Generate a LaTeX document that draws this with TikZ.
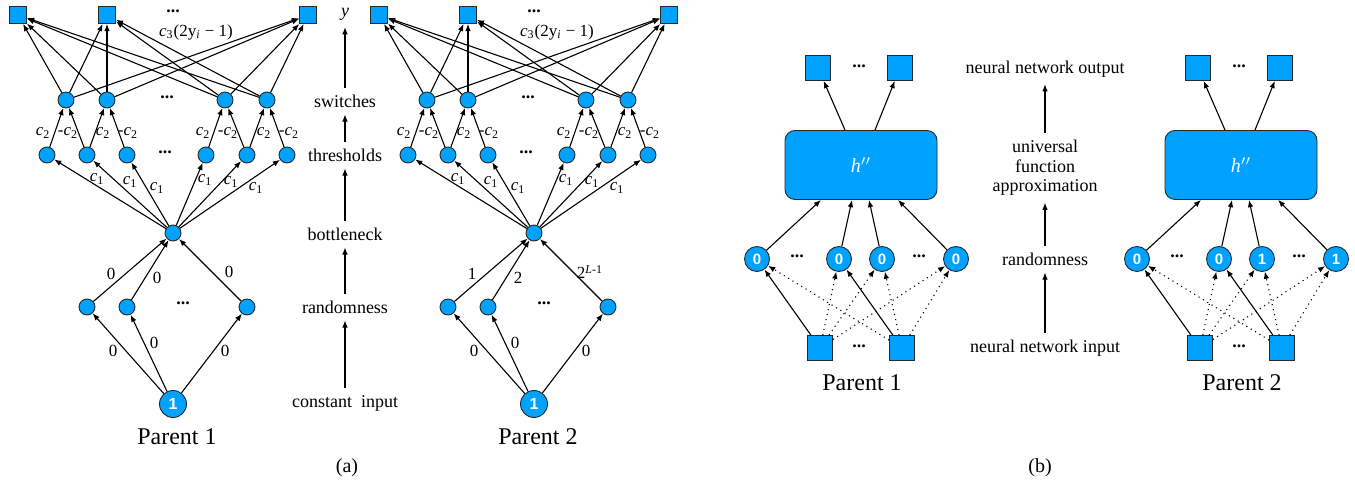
\documentclass[tikz,border=0pt]{standalone}
\usepackage{fontspec}
\setmainfont{Liberation Serif}
\newfontfamily\lsans{Liberation Sans}
\usetikzlibrary{arrows.meta,calc}
\definecolor{nnblue}{RGB}{0,162,255}
\definecolor{nnedge}{RGB}{40,40,40}
\begin{document}
\begin{tikzpicture}[x=0.5pt,y=-0.5pt,
  every node/.style={font=\fontsize{9}{10}\selectfont},
  arr/.style={-{Latex[length=3.6pt,width=2.8pt]},line width=0.55pt},
  dotarr/.style={arr,dotted},
  sn/.style={circle,fill=nnblue,draw=nnedge,line width=0.45pt,minimum size=8pt,inner sep=0pt},
  sq/.style={rectangle,fill=nnblue,draw=nnedge,line width=0.45pt,minimum size=8.5pt,inner sep=0pt},
  inp/.style={circle,fill=nnblue,draw=nnedge,line width=0.45pt,minimum size=13.5pt,inner sep=0pt,text=white,font=\lsans\bfseries\fontsize{8}{8}\selectfont},
  bn/.style={circle,fill=nnblue,draw=nnedge,line width=0.45pt,minimum size=12.5pt,inner sep=0pt,text=white,font=\lsans\bfseries\fontsize{7.5}{8}\selectfont},
  bsq/.style={rectangle,fill=nnblue,draw=nnedge,line width=0.45pt,minimum size=12.5pt,inner sep=0pt},
  hbox/.style={rectangle,rounded corners=5pt,fill=nnblue,draw=nnedge,line width=0.45pt,minimum width=76pt,minimum height=34.5pt,text=white,font=\fontsize{10}{10}\selectfont},
  elab/.style={font=\fontsize{8.5}{9}\selectfont,inner sep=1pt},
  plab/.style={font=\fontsize{12}{13}\selectfont},
  dots/.style={font=\fontsize{9}{10}\selectfont\bfseries},
]
\useasboundingbox (0,0) rectangle (1355,491);

% ---------------- panel (a) ----------------
\foreach \s/\p/\la/\lb/\lc in {0/1/0/0/0, 361/2/1/2/{2\textsuperscript{\textit{L}-1}}}{
\begin{scope}[shift={(\s,0)}]
  \node[sq] (o1\p) at (18,15) {};
  \node[sq] (o2\p) at (107,15) {};
  \node[sq] (o3\p) at (308,15) {};
  \node[dots] (od\p) at (173,11) {...};
  \node[elab] (cc\p) at (196,32) {\textit{c}\textsubscript{3}(2y\textsubscript{\textit{i}} − 1)};
  \foreach \i/\x in {1/66,2/107,3/225,4/267} \node[sn] (s\i\p) at (\x,100) {};
  \node[dots] (sd\p) at (167,97) {...};
  \foreach \i/\x in {1/47,2/87,3/127,4/206,5/247,6/287} \node[sn] (t\i\p) at (\x,155) {};
  \node[dots] (td\p) at (165,152) {...};
  \node[sn] (b\p) at (173,233) {};
  \foreach \i/\x in {1/87,2/127,3/247} \node[sn] (r\i\p) at (\x,307) {};
  \node[dots] (rd\p) at (183,303) {...};
  \node[inp] (in\p) at (173,404) {1};
  \node[plab] (pl\p) at (177,437) {Parent \p};
  % edges
  \foreach \i in {1,2,3,4} \foreach \j in {1,2,3} \draw[arr] (s\i\p) -- (o\j\p);
  \foreach \t/\w in {1/1,2/1,2/2,3/2,4/3,5/3,5/4,6/4} \draw[arr] (t\t\p) -- (s\w\p);
  \foreach \t in {1,...,6} \draw[arr] (b\p) -- (t\t\p);
  \foreach \r in {1,2,3} \draw[arr] (r\r\p) -- (b\p);
  \foreach \r in {1,2,3} \draw[arr] (in\p) -- (r\r\p);
  % labels
  \foreach \n/\x/\m in {a/43/,b/68/-,c/103/,d/128/-,e/203/,f/228/-,g/264/,h/289/-}
    \node[elab] (ct\n\p) at (\x,133) {\m\textit{c}\textsubscript{2}};
  \foreach \n/\x/\y in {a/97/179,b/130/182,c/157/188,d/205/180,e/231/182,f/256/188}
    \node[elab] (co\n\p) at (\x,\y) {\textit{c}\textsubscript{1}};
  \node[elab] (wa\p) at (111,274) {\la};
  \node[elab] (wb\p) at (157,278) {\lb};
  \node[elab] (wc\p) at (229,272) {\lc};
  \node[elab] (za\p) at (113,351) {0};
  \node[elab] (zb\p) at (154,343) {0};
  \node[elab] (zc\p) at (225,351) {0};
\end{scope}
}

% middle labels (a)
\node (ly) at (345,14) {\textit{y}};
\node (lsw) at (345,101) {switches};
\node (lth) at (345,155) {thresholds};
\node (lbn) at (345,234) {bottleneck};
\node (lrn) at (345,307) {randomness};
\node (lci) at (345,403) {constant~ input};
\draw[arr] (lsw.north) -- (ly.south);
\draw[arr] (lth.north) -- (lsw.south);
\draw[arr] (lbn.north) -- (lth.south);
\draw[arr] (lrn.north) -- (lbn.south);
\draw[arr] (lci.north) -- (lrn.south);

% ---------------- panel (b) ----------------
\foreach \s/\p/\na/\nb/\nc/\nd in {0/1/0/0/0/0, 380/2/0/0/1/1}{
\begin{scope}[shift={(\s,0)}]
  \node[bsq] (bo1\p) at (818,68) {};
  \node[bsq] (bo2\p) at (900,68) {};
  \node[dots] (bod\p) at (859,66) {...};
  \node[hbox] (h\p) at (861,165) {\textit{h}$''$};
  \node[bn] (bn1\p) at (757,259) {\na};
  \node[bn] (bn2\p) at (839,259) {\nb};
  \node[bn] (bn3\p) at (882,259) {\nc};
  \node[bn] (bn4\p) at (956,259) {\nd};
  \node[dots] (bd1\p) at (797,256) {...};
  \node[dots] (bd2\p) at (919,256) {...};
  \node[bsq] (bi1\p) at (820,348) {};
  \node[bsq] (bi2\p) at (902,348) {};
  \node[dots] (bid\p) at (859,346) {...};
  \node[plab] (bpl\p) at (862,383) {Parent \p};
  \draw[arr] ($(h\p.north)+(-16,0)$) -- (bo1\p);
  \draw[arr] ($(h\p.north)+(14,0)$) -- (bo2\p);
  \draw[arr] (bn1\p) -- ($(h\p.south)+(-40,0)$);
  \draw[arr] (bn2\p) -- ($(h\p.south)+(-9,0)$);
  \draw[arr] (bn3\p) -- ($(h\p.south)+(8,0)$);
  \draw[arr] (bn4\p) -- ($(h\p.south)+(37,0)$);
  \draw[arr] (bi1\p) -- (bn1\p);
  \draw[arr] (bi2\p) -- (bn2\p);
  \foreach \k in {2,3,4} \draw[dotarr] (bi1\p) -- (bn\k\p);
  \foreach \k in {1,3,4} \draw[dotarr] (bi2\p) -- (bn\k\p);
\end{scope}
}

% middle labels (b)
\node (bno) at (1045,69) {neural network output};
\node[align=center,font=\fontsize{9}{9.75}\selectfont] (buf) at (1045,168) {universal\\function\\approximation};
\node (brn) at (1045,259) {randomness};
\node (bni) at (1045,348) {neural network input};
\draw[arr] (bni.north) -- (brn.south);
\draw[arr] (brn.north) -- (buf.south);
\draw[arr] (buf.north) -- (bno.south);

% captions
\node[font=\fontsize{10}{11}\selectfont] (capa) at (347,468) {(a)};
\node[font=\fontsize{10}{11}\selectfont] (capb) at (1040,468) {(b)};
\end{tikzpicture}
\end{document}
